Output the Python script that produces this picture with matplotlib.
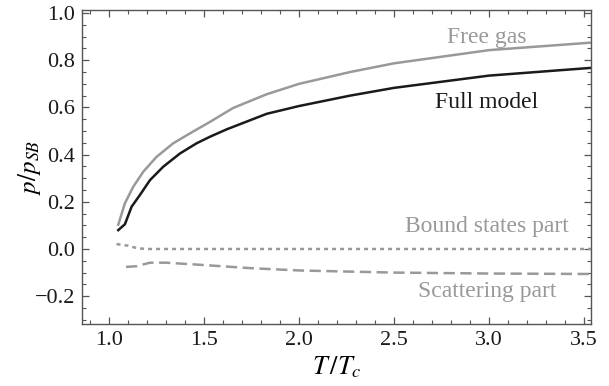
import matplotlib
matplotlib.use("Agg")
import matplotlib.pyplot as plt
from matplotlib.ticker import MultipleLocator

plt.rcParams['font.family'] = ['Liberation Serif', 'DejaVu Serif']
plt.rcParams['mathtext.fontset'] = 'stix'

# values
t_free = [1.049, 1.084, 1.128, 1.181, 1.251, 1.338, 1.426, 1.532, 1.654, 1.83,
          2.0, 2.268, 2.5, 3.0, 3.54]
p_free = [0.103, 0.194, 0.264, 0.328, 0.391, 0.448, 0.490, 0.539, 0.598, 0.656,
          0.700, 0.750, 0.787, 0.843, 0.875]

t_full = [1.049, 1.084, 1.119, 1.163, 1.216, 1.286, 1.374, 1.461, 1.532, 1.619,
          1.83, 2.0, 2.268, 2.5, 3.0, 3.54]
p_full = [0.080, 0.105, 0.179, 0.229, 0.292, 0.349, 0.405, 0.448, 0.476, 0.507,
          0.573, 0.606, 0.650, 0.683, 0.735, 0.768]

t_bound = [1.04, 1.10, 1.15, 1.2, 1.5, 2.0, 2.5, 3.0, 3.54]
p_bound = [0.021, 0.014, 0.003, 0.0, 0.0, 0.0, 0.0, 0.0, 0.0]

t_scat = [1.09, 1.146, 1.216, 1.30, 1.48, 1.74, 2.0, 2.5, 3.0, 3.54]
p_scat = [-0.076, -0.073, -0.058, -0.058, -0.067, -0.081, -0.091, -0.100, -0.104, -0.106]

labels = ["Free gas", "Full model", "Bound states part", "Scattering part"]
label_y = [0.895, 0.62, 0.097, -0.182]

gray = '#999999'
fig = plt.figure(figsize=(6.09, 3.86), dpi=100)
ax = fig.add_axes([0.1346, 0.1606, 0.8358, 0.8134])

ax.plot(t_free, p_free, color=gray, lw=1.8)
ax.plot(t_full, p_full, color='#1a1a1a', lw=1.8)
ax.plot(t_bound, p_bound, color=gray, lw=1.8, dashes=(1.6, 1.6))
ax.plot(t_scat, p_scat, color=gray, lw=1.8, dashes=(4.5, 2.2))

colors = [gray, '#1a1a1a', gray, gray]
for lab, yy, c in zip(labels, label_y, colors):
    ax.text(2.99, yy, lab, color=c, fontsize=17, ha='center', va='center')

ax.set_xlim(0.858, 3.537)
ax.set_ylim(-0.318, 1.013)
ax.xaxis.set_major_locator(MultipleLocator(0.5))
ax.xaxis.set_minor_locator(MultipleLocator(0.1))
ax.yaxis.set_major_locator(MultipleLocator(0.2))
ax.yaxis.set_minor_locator(MultipleLocator(0.05))
ax.xaxis.set_major_formatter(plt.FuncFormatter(lambda v, p: f"{v:.1f}"))
ax.yaxis.set_major_formatter(plt.FuncFormatter(lambda v, p: f"{v:.1f}".replace('-', '\u2212')))
ax.tick_params(which='both', direction='in', top=True, right=True, color='#555555',
               labelsize=16, labelcolor='#1a1a1a')
ax.tick_params(which='major', length=5, width=0.9, pad=5)
ax.tick_params(which='minor', length=3, width=0.8)
for s in ax.spines.values():
    s.set_color('#555555')
    s.set_linewidth(1.0)

ax.set_xlabel(r'$T\,/T_c$', fontsize=19, labelpad=3)
ax.set_ylabel(r'$p/p_{SB}$', fontsize=18)
ax.yaxis.set_label_coords(-0.077, 0.5)

fig.savefig('out.png', dpi=100)
